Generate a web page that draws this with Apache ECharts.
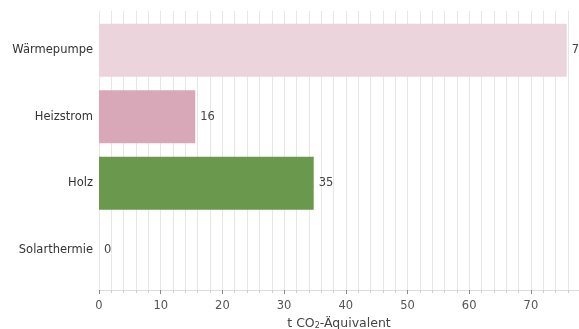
<!DOCTYPE html>
<html>
<head>
<meta charset="utf-8">
<script src="https://cdn.jsdelivr.net/npm/echarts@6/dist/echarts.min.js"></script>
<style>
  html, body { margin: 0; padding: 0; background: #fff; }
  #chart { width: 579px; height: 329px; }
</style>
</head>
<body>
<div id="chart"></div>
<script>
// data
var categories = ["Wärmepumpe", "Heizstrom", "Holz", "Solarthermie"];
var values = [75.8, 15.6, 34.8, 0];
var barColors = ["#ecd4dc", "#d9a8b8", "#6a994e", "#6a994e"];
var xMax = 77.8;

var chart = echarts.init(document.getElementById("chart"));

var option = {
  animation: false,
  textStyle: { fontFamily: "DejaVu Sans" },
  grid: [
    // grid 0: background grid lines every 2
    { left: 99, right: 0, top: 11, bottom: 39, outerBoundsMode: "none", containLabel: false },
    // grid 1: bars
    { left: 99, right: 0, top: 17, bottom: 46, outerBoundsMode: "none", containLabel: false },
    // grid 2: labelled ticks every 10
    { left: 99, right: 0, top: 11, bottom: 39, outerBoundsMode: "none", containLabel: false }
  ],
  xAxis: [
    {
      gridIndex: 0,
      type: "value",
      min: 0,
      max: xMax,
      interval: 2,
      axisLine: { show: true, lineStyle: { color: "#dddddd", width: 1 } },
      axisTick: { show: true, length: 3, lineStyle: { color: "#d0d0d0" } },
      axisLabel: { show: false },
      splitLine: { show: true, lineStyle: { color: "#e6e6e6", width: 1 } }
    },
    {
      gridIndex: 1,
      type: "value",
      min: 0,
      max: xMax,
      show: false
    },
    {
      gridIndex: 2,
      type: "value",
      min: 0,
      max: xMax,
      interval: 10,
      name: "t CO{sub|2}-Äquivalent",
      nameLocation: "middle",
      nameGap: 26,
      nameTextStyle: {
        color: "#444",
        fontSize: 12.5,
        rich: { sub: { fontSize: 8, verticalAlign: "bottom", padding: [6, 0, 0, 0], color: "#444" } }
      },
      axisLine: { show: false },
      axisTick: { show: true, inside: false, length: 4, lineStyle: { color: "#888" } },
      axisLabel: { color: "#555", fontSize: 11.5, margin: 10, showMaxLabel: false },
      splitLine: { show: false }
    }
  ],
  yAxis: [
    { gridIndex: 0, type: "value", show: false },
    {
      gridIndex: 1,
      type: "category",
      data: categories,
      inverse: true,
      axisLine: { show: false },
      axisTick: { show: false },
      axisLabel: { color: "#333", fontSize: 11.5, margin: 6 }
    },
    { gridIndex: 2, type: "value", show: false }
  ],
  series: [
    {
      type: "bar",
      xAxisIndex: 1,
      yAxisIndex: 1,
      data: values.map(function (v, i) {
        return { value: v, itemStyle: { color: barColors[i] } };
      }),
      barWidth: 53,
      label: {
        show: true,
        position: "right",
        distance: 5,
        color: "#444",
        fontSize: 11.5,
        formatter: function (p) { return Math.round(p.value); }
      }
    }
  ]
};

chart.setOption(option);
</script>
</body>
</html>
